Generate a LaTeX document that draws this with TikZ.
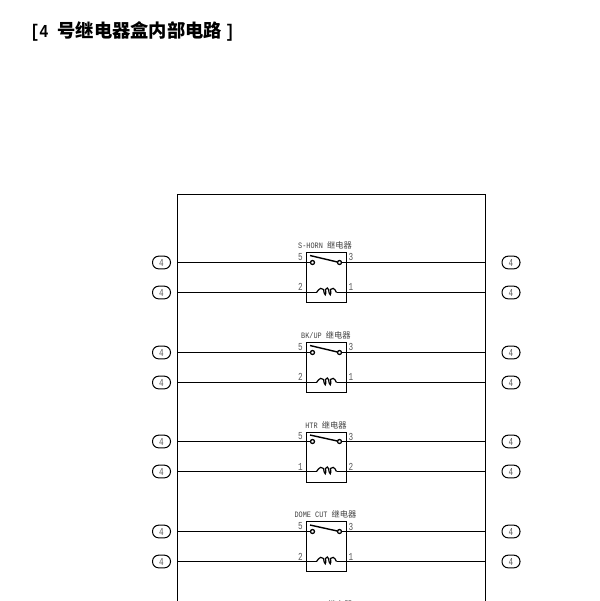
\documentclass[tikz,border=0pt]{standalone}
\usepackage{fontspec}
\usepackage{tikz}
\newfontfamily\cjk{Noto Sans CJK SC}
\newfontfamily\labellatin[FakeStretch=0.83]{Liberation Mono}
\newfontfamily\numlatin[FakeStretch=0.72]{Liberation Mono}

\begin{document}
\begin{tikzpicture}[x=0.75pt,y=-0.75pt,
  wire/.style={line width=1.05pt},
  tagnode/.style={draw, rounded corners=4.6pt, line width=0.75pt, minimum width=13.5pt, minimum height=9.5pt, inner sep=0pt, font=\numlatin\fontsize{8pt}{8pt}\selectfont, text=black!65},
  relaybox/.style={draw, line width=1.05pt, minimum width=30pt, minimum height=37.5pt, inner sep=0pt},
  pinnode/.style={circle, draw, line width=0.95pt, minimum size=3pt, inner sep=0pt},
  numnode/.style={inner sep=0pt, text=black!65, font=\numlatin\fontsize{8pt}{8pt}\selectfont},
  namenode/.style={inner sep=0pt, text=black!75, font=\labellatin\fontsize{6.2pt}{7pt}\selectfont},
  relaycoil/.pic={\draw[line width=0.9pt] (-10,0) .. controls (-7,-5) and (-4,-5) .. (-3,-3) .. controls (-2,4) and (0,4) .. (-1,-3) .. controls (0,-5) and (2,-5) .. (2,-3) .. controls (3,4) and (5,4) .. (4,-3) .. controls (5,-5) and (8,-5) .. (10,0);}]
\useasboundingbox (0,0) rectangle (600,601);
\node[anchor=west, inner sep=0pt] (Title) at (30,31) {\fontsize{13.7pt}{14pt}\selectfont\bfseries{\labellatin [4 }{\cjk\bfseries 号继电器盒内部电路}\hspace{2.6pt}{\labellatin ]}};
% frame
\coordinate (FrameTL) at (177.5,194.5);
\coordinate (FrameTR) at (485.5,194.5);
\coordinate (FrameBL) at (177.5,601);
\coordinate (FrameBR) at (485.5,601);
\draw[wire] (FrameBL) -- (FrameTL) -- (FrameTR) -- (FrameBR);
% S-HORN
\node[relaybox] (RelayA) at (326.5,277.5) {};
\node[namenode] (NameA) at (325,245.5) {S-HORN {\cjk 继电器}};
\node[tagnode] (TagAa) at (161.5,262.5) {4};
\node[tagnode] (TagAb) at (161.5,292.5) {4};
\node[tagnode] (TagAc) at (511,262.5) {4};
\node[tagnode] (TagAd) at (511,292.5) {4};
\coordinate (LeftAa) at (177.5,262.5);
\coordinate (LeftAb) at (177.5,292.5);
\coordinate (RightAa) at (485.5,262.5);
\coordinate (RightAb) at (485.5,292.5);
\node[pinnode] (PinAa) at (312.5,262.5) {};
\node[pinnode] (PinAb) at (339.5,262.5) {};
\coordinate (ArmA) at (310,255.5);
\pic (CoilA) at (326.5,292.5) {relaycoil};
\coordinate (CoilAl) at (316.5,292.5);
\coordinate (CoilAr) at (336.5,292.5);
\node[numnode] (NumAa) at (300.5,257) {5};
\node[numnode] (NumAb) at (351,257) {3};
\node[numnode] (NumAc) at (300.5,287) {2};
\node[numnode] (NumAd) at (351,287) {1};
\draw[wire] (LeftAa) -- (PinAa);
\draw[wire] (PinAb) -- (RightAa);
\draw[wire] (LeftAb) -- (CoilAl);
\draw[wire] (CoilAr) -- (RightAb);
\draw[wire] (ArmA) -- (PinAb);
% BK/UP
\node[relaybox] (RelayB) at (326.5,367.5) {};
\node[namenode] (NameB) at (326,335.5) {BK/UP {\cjk 继电器}};
\node[tagnode] (TagBa) at (161.5,352.5) {4};
\node[tagnode] (TagBb) at (161.5,382.5) {4};
\node[tagnode] (TagBc) at (511,352.5) {4};
\node[tagnode] (TagBd) at (511,382.5) {4};
\coordinate (LeftBa) at (177.5,352.5);
\coordinate (LeftBb) at (177.5,382.5);
\coordinate (RightBa) at (485.5,352.5);
\coordinate (RightBb) at (485.5,382.5);
\node[pinnode] (PinBa) at (312.5,352.5) {};
\node[pinnode] (PinBb) at (339.5,352.5) {};
\coordinate (ArmB) at (310,345.5);
\pic (CoilB) at (326.5,382.5) {relaycoil};
\coordinate (CoilBl) at (316.5,382.5);
\coordinate (CoilBr) at (336.5,382.5);
\node[numnode] (NumBa) at (300.5,347) {5};
\node[numnode] (NumBb) at (351,347) {3};
\node[numnode] (NumBc) at (300.5,377) {2};
\node[numnode] (NumBd) at (351,377) {1};
\draw[wire] (LeftBa) -- (PinBa);
\draw[wire] (PinBb) -- (RightBa);
\draw[wire] (LeftBb) -- (CoilBl);
\draw[wire] (CoilBr) -- (RightBb);
\draw[wire] (ArmB) -- (PinBb);
% HTR
\node[relaybox] (RelayC) at (326.5,457.5) {};
\node[namenode] (NameC) at (326,425) {HTR {\cjk 继电器}};
\node[tagnode] (TagCa) at (161.5,441.5) {4};
\node[tagnode] (TagCb) at (161.5,471.5) {4};
\node[tagnode] (TagCc) at (511,441.5) {4};
\node[tagnode] (TagCd) at (511,471.5) {4};
\coordinate (LeftCa) at (177.5,441.5);
\coordinate (LeftCb) at (177.5,471.5);
\coordinate (RightCa) at (485.5,441.5);
\coordinate (RightCb) at (485.5,471.5);
\node[pinnode] (PinCa) at (312.5,441.5) {};
\node[pinnode] (PinCb) at (339.5,441.5) {};
\coordinate (ArmC) at (310,435);
\pic (CoilC) at (326.5,471.5) {relaycoil};
\coordinate (CoilCl) at (316.5,471.5);
\coordinate (CoilCr) at (336.5,471.5);
\node[numnode] (NumCa) at (300.5,436.5) {5};
\node[numnode] (NumCb) at (351,436.5) {3};
\node[numnode] (NumCc) at (300.5,466.5) {1};
\node[numnode] (NumCd) at (351,466.5) {2};
\draw[wire] (LeftCa) -- (PinCa);
\draw[wire] (PinCb) -- (RightCa);
\draw[wire] (LeftCb) -- (CoilCl);
\draw[wire] (CoilCr) -- (RightCb);
\draw[wire] (ArmC) -- (PinCb);
% DOME CUT
\node[relaybox] (RelayD) at (326.5,546.5) {};
\node[namenode] (NameD) at (325.5,514.5) {DOME CUT {\cjk 继电器}};
\node[tagnode] (TagDa) at (161.5,531.5) {4};
\node[tagnode] (TagDb) at (161.5,561.5) {4};
\node[tagnode] (TagDc) at (511,531.5) {4};
\node[tagnode] (TagDd) at (511,561.5) {4};
\coordinate (LeftDa) at (177.5,531.5);
\coordinate (LeftDb) at (177.5,561.5);
\coordinate (RightDa) at (485.5,531.5);
\coordinate (RightDb) at (485.5,561.5);
\node[pinnode] (PinDa) at (312.5,531.5) {};
\node[pinnode] (PinDb) at (339.5,531.5) {};
\coordinate (ArmD) at (310,525);
\pic (CoilD) at (326.5,561.5) {relaycoil};
\coordinate (CoilDl) at (316.5,561.5);
\coordinate (CoilDr) at (336.5,561.5);
\node[numnode] (NumDa) at (300.5,526.5) {5};
\node[numnode] (NumDb) at (351,526.5) {3};
\node[numnode] (NumDc) at (300.5,556.5) {2};
\node[numnode] (NumDd) at (351,556.5) {1};
\draw[wire] (LeftDa) -- (PinDa);
\draw[wire] (PinDb) -- (RightDa);
\draw[wire] (LeftDb) -- (CoilDl);
\draw[wire] (CoilDr) -- (RightDb);
\draw[wire] (ArmD) -- (PinDb);
% cut off by the page
\node[namenode] (NameE) at (340,604.6) {{\cjk 继电器}};
\end{tikzpicture}
\end{document}
